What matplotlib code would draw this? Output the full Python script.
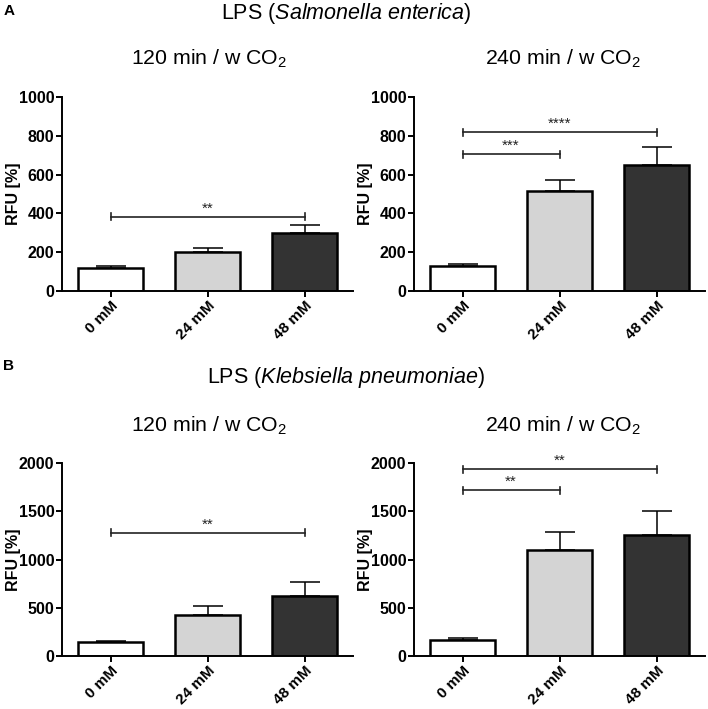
import matplotlib
matplotlib.use("Agg")
import matplotlib.pyplot as plt
import numpy as np

plt.rcParams['font.family'] = ['Liberation Sans', 'DejaVu Sans']
plt.rcParams['mathtext.fontset'] = 'custom'
plt.rcParams['mathtext.rm'] = 'Liberation Sans'
plt.rcParams['mathtext.it'] = 'Liberation Sans:italic'

categories = ["0 mM", "24 mM", "48 mM"]
colors = ["#ffffff", "#d4d4d4", "#333333"]

# Panel A: Salmonella enterica
a120_mean = [121, 202, 297]
a120_err = [8, 22, 44]
a240_mean = [129, 517, 652]
a240_err = [11, 55, 88]
# Panel B: Klebsiella pneumoniae
b120_mean = [141, 424, 624]
b120_err = [18, 90, 138]
b240_mean = [169, 1097, 1255]
b240_err = [21, 186, 252]

# significance brackets: (from_idx, to_idx, y, label)
a120_sig = [(0, 2, 383, "**")]
a240_sig = [(0, 1, 705, "***"), (0, 2, 819, "****")]
b120_sig = [(0, 2, 1279, "**")]
b240_sig = [(0, 1, 1717, "**"), (0, 2, 1934, "**")]

W, H = 708, 709
fig = plt.figure(figsize=(W / 100, H / 100), dpi=100)


def px_axes(left, top, right, bottom):
    return fig.add_axes([left / W, 1 - bottom / H, (right - left) / W, (bottom - top) / H])


def panel(ax, means, errs, sigs, ymax, yticks):
    x = np.arange(len(categories))
    ax.bar(x, means, width=0.67, color=colors, edgecolor="black", linewidth=1.8, zorder=2)
    ax.errorbar(x, means, yerr=[np.zeros(len(errs)), errs], fmt="none", ecolor="black",
                elinewidth=1.1, capsize=11, capthick=1.1, zorder=1)
    ax.set_xlim(-0.5, 2.5)
    ax.set_ylim(0, ymax)
    ax.set_yticks(yticks)
    ax.set_xticks(x)
    ax.set_xticklabels(categories, rotation=45, ha="right", va="top",
                       rotation_mode="anchor", fontsize=11, fontweight="bold")
    for lab in ax.get_yticklabels():
        lab.set_fontweight("bold")
        lab.set_fontsize(11.5)
    ax.spines["top"].set_visible(False)
    ax.spines["right"].set_visible(False)
    ax.spines["left"].set_linewidth(1.4)
    ax.spines["bottom"].set_linewidth(1.4)
    ax.tick_params(axis="both", direction="out", length=4, width=1.4, pad=1.5)
    ax.set_ylabel("RFU [%]", fontsize=11.5, fontweight="bold")
    ax.yaxis.set_label_coords(-0.142, 0.5)
    tick_h = ymax * 0.018
    for i0, i1, y, lab in sigs:
        ax.plot([i0, i1], [y, y], color="#222222", lw=1.2, clip_on=False)
        ax.plot([i0, i0], [y - tick_h, y + tick_h], color="#222222", lw=1.2, clip_on=False)
        ax.plot([i1, i1], [y - tick_h, y + tick_h], color="#222222", lw=1.2, clip_on=False)
        ax.text((i0 + i1) / 2, y + ymax * 0.006, lab, ha="center", va="bottom", fontsize=11,
                color="#222222")


ax1 = px_axes(62, 97, 353, 291)
panel(ax1, a120_mean, a120_err, a120_sig, 1000, [0, 200, 400, 600, 800, 1000])
ax2 = px_axes(414, 97, 705, 291)
panel(ax2, a240_mean, a240_err, a240_sig, 1000, [0, 200, 400, 600, 800, 1000])
ax3 = px_axes(62, 463, 353, 656)
panel(ax3, b120_mean, b120_err, b120_sig, 2000, [0, 500, 1000, 1500, 2000])
ax4 = px_axes(414, 463, 705, 656)
panel(ax4, b240_mean, b240_err, b240_sig, 2000, [0, 500, 1000, 1500, 2000])


def ftext(x, y, s, **kw):
    fig.text(x / W, 1 - y / H, s, **kw)


ftext(9, 11, "A", fontsize=11, fontweight="bold", ha="center", va="center")
ftext(9, 366, "B", fontsize=11, fontweight="bold", ha="center", va="center")
ftext(346, 13, r"LPS ($\mathit{Salmonella\ enterica}$)", fontsize=15.5, ha="center", va="center")
ftext(346, 378, r"LPS ($\mathit{Klebsiella\ pneumoniae}$)", fontsize=15.5, ha="center", va="center")
ftext(209, 59, r"120 min / w CO$_2$", fontsize=15.3, ha="center", va="center")
ftext(563, 59, r"240 min / w CO$_2$", fontsize=15.3, ha="center", va="center")
ftext(209, 426, r"120 min / w CO$_2$", fontsize=15.3, ha="center", va="center")
ftext(563, 426, r"240 min / w CO$_2$", fontsize=15.3, ha="center", va="center")

fig.savefig("out.png", dpi=100)
